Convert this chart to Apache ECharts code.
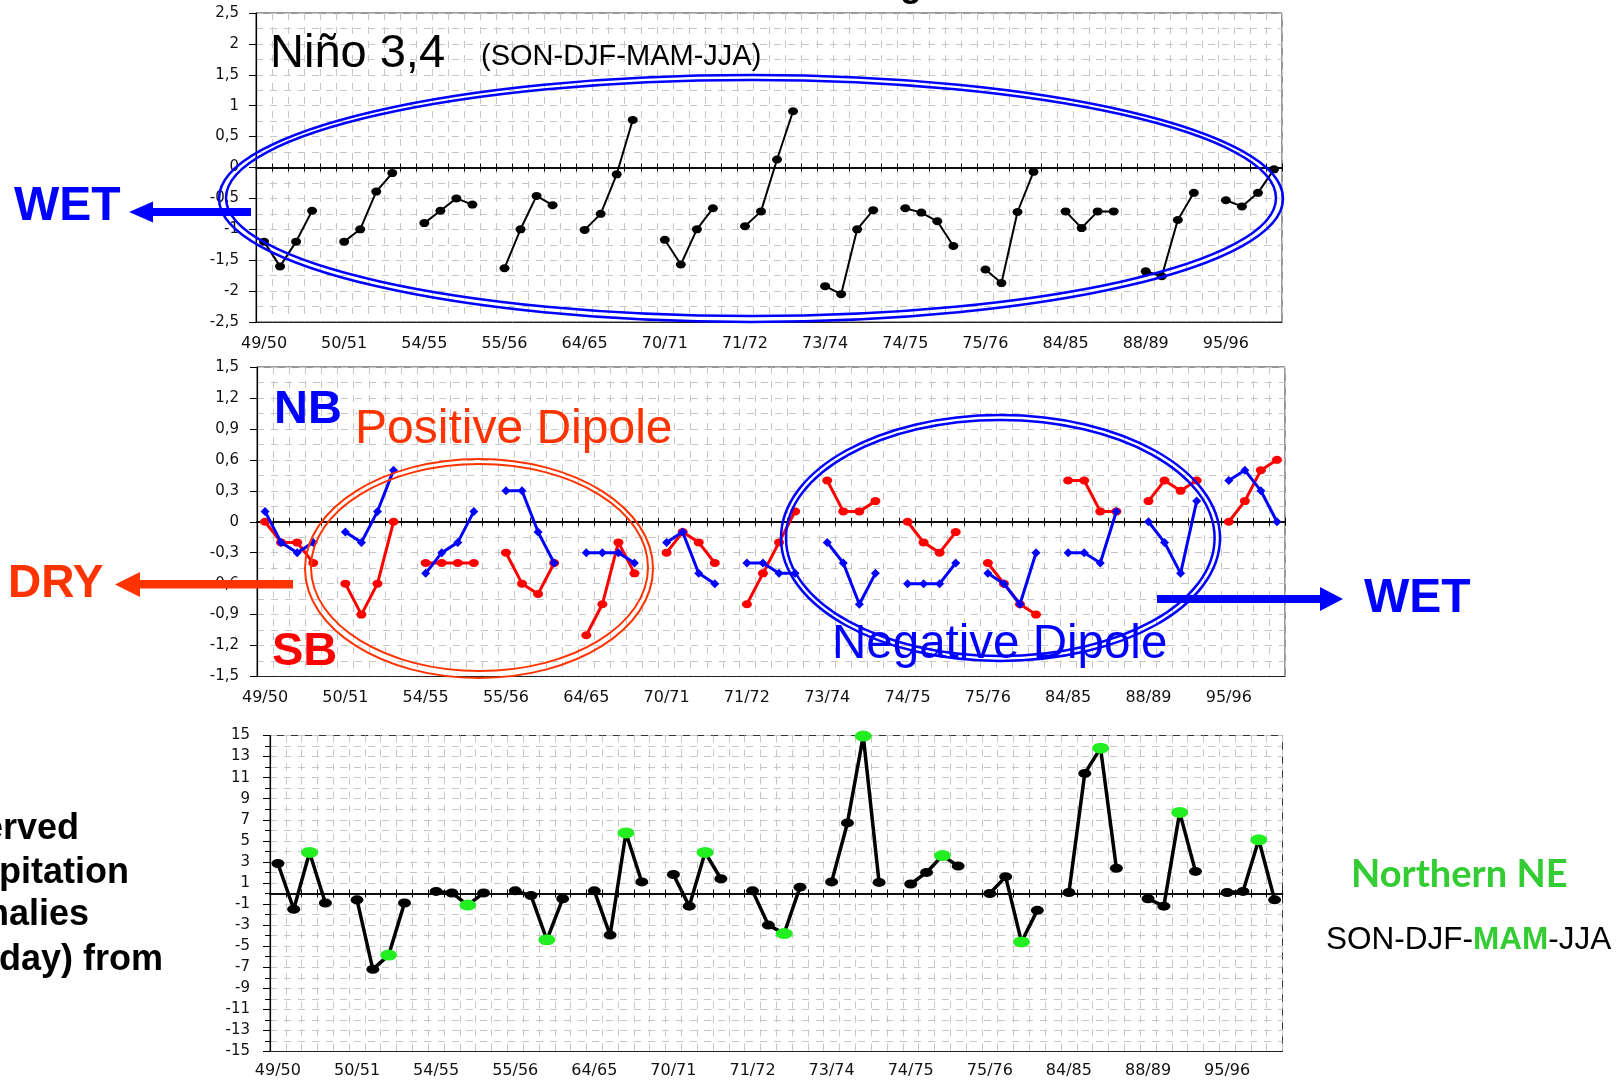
<!DOCTYPE html>
<html><head><meta charset="utf-8">
<script src="https://cdn.jsdelivr.net/npm/echarts@6/dist/echarts.min.js"></script>
<style>html,body{margin:0;padding:0;background:#fff}#c{width:1624px;height:1081px}</style>
</head><body><div id="c"></div>
<script>
// ---- data ----
const years = ['49/50','50/51','54/55','55/56','64/65','70/71','71/72','73/74','74/75','75/76','84/85','88/89','95/96'];
const seasons = ['SON','DJF','MAM','JJA'];
// Niño 3,4 anomalies (SON, DJF, MAM, JJA) per year
const nino34 = [
  [-1.2, -1.6, -1.2, -0.7],
  [-1.2, -1.0, -0.39, -0.09],
  [-0.9, -0.7, -0.5, -0.6],
  [-1.63, -1.0, -0.46, -0.61],
  [-1.01, -0.75, -0.11, 0.77],
  [-1.17, -1.57, -1.0, -0.66],
  [-0.95, -0.71, 0.13, 0.91],
  [-1.92, -2.05, -1.0, -0.69],
  [-0.66, -0.73, -0.87, -1.27],
  [-1.65, -1.87, -0.72, -0.07],
  [-0.71, -0.98, -0.71, -0.71],
  [-1.68, -1.76, -0.85, -0.41],
  [-0.53, -0.63, -0.41, -0.03]
];
// NB (blue) index
const nbIndex = [
  [0.1, -0.2, -0.3, -0.2],
  [-0.1, -0.2, 0.1, 0.5],
  [-0.5, -0.3, -0.2, 0.1],
  [0.3, 0.3, -0.1, -0.4],
  [-0.3, -0.3, -0.3, -0.4],
  [-0.2, -0.1, -0.5, -0.6],
  [-0.4, -0.4, -0.5, -0.5],
  [-0.2, -0.4, -0.8, -0.5],
  [-0.6, -0.6, -0.6, -0.4],
  [-0.5, -0.6, -0.8, -0.3],
  [-0.3, -0.3, -0.4, 0.1],
  [0.0, -0.2, -0.5, 0.2],
  [0.4, 0.5, 0.3, 0.0]
];
// SB (red) index
const sbIndex = [
  [0.0, -0.2, -0.2, -0.4],
  [-0.6, -0.9, -0.6, 0.0],
  [-0.4, -0.4, -0.4, -0.4],
  [-0.3, -0.6, -0.7, -0.4],
  [-1.1, -0.8, -0.2, -0.5],
  [-0.3, -0.1, -0.2, -0.4],
  [-0.8, -0.5, -0.2, 0.1],
  [0.4, 0.1, 0.1, 0.2],
  [0.0, -0.2, -0.3, -0.1],
  [-0.4, -0.6, -0.8, -0.9],
  [0.4, 0.4, 0.1, 0.1],
  [0.2, 0.4, 0.3, 0.4],
  [0.0, 0.2, 0.5, 0.6]
];
// Observed precipitation anomalies (mm/day), Northern NE
const precipNNE = [
  [2.85, -1.5, 3.9, -0.9],
  [-0.6, -7.2, -5.85, -0.9],
  [0.2, 0.05, -1.1, 0.05],
  [0.25, -0.2, -4.4, -0.5],
  [0.25, -3.95, 5.75, 1.1],
  [1.8, -1.2, 3.9, 1.4],
  [0.25, -3.0, -3.8, 0.6],
  [1.1, 6.7, 14.95, 1.05],
  [0.9, 2.0, 3.6, 2.6],
  [0.0, 1.6, -4.6, -1.6],
  [0.1, 11.4, 13.8, 2.4],
  [-0.5, -1.2, 7.7, 2.1],
  [0.1, 0.2, 5.1, -0.6]
];
const highlightSeason = 'MAM';

// ---- helpers ----
function flatten(groups) {
  const out = [];
  groups.forEach((g, i) => { g.forEach(v => out.push(v)); if (i < groups.length - 1) out.push(null); });
  return out;
}
const categories = [];
years.forEach((y, i) => { seasons.forEach(s => categories.push(y + ' ' + s)); if (i < years.length - 1) categories.push(y + ' gap'); });
const seasonOf = idx => categories[idx].split(' ')[1];

const tickFont = '"DejaVu Sans", "Liberation Sans", sans-serif';
const gridColor = '#c6c6c6';
const commaFmt = v => String(Math.round(v * 100) / 100).replace('.', ',');

const grids = [
  {left: 256, top: 13, width: 1026, height: 309},
  {left: 257, top: 367, width: 1028, height: 309.5},
  {left: 270, top: 735.5, width: 1012.5, height: 316}
];
const labelMargins = [14, 13, 11];

const xAxes = [];
grids.forEach((g, gi) => {
  xAxes.push({
    type: 'category', gridIndex: gi, data: categories, boundaryGap: true, position: 'bottom',
    axisLine: {show: true, onZero: false, lineStyle: {color: '#222', width: 1}},
    axisTick: {show: false},
    axisLabel: {show: true, interval: 0, margin: labelMargins[gi], color: '#111', fontSize: 16, fontFamily: tickFont,
      formatter: (v, idx) => (idx % 5 === 0 ? years[idx / 5] : '')},
    splitLine: {show: true, interval: 0, lineStyle: {color: gridColor, type: [7, 7], width: 1}}
  });
  [false, true].forEach(inside => {
    xAxes.push({
      type: 'category', gridIndex: gi, data: categories, boundaryGap: true, position: 'bottom',
      axisLine: {show: true, onZero: true, onZeroAxisIndex: gi, lineStyle: {color: '#000', width: 1.5}},
      axisTick: {show: true, interval: 0, inside: inside, length: 4, lineStyle: {color: '#000', width: 1}},
      axisLabel: {show: false}, splitLine: {show: false}
    });
  });
});

function yAxis(gi, min, max, interval, fmt, margin, minorTickShow) {
  return {
    type: 'value', gridIndex: gi, min: min, max: max, interval: interval,
    axisLine: {show: true, lineStyle: {color: '#000', width: 1.2}},
    axisTick: {show: true, length: 7, lineStyle: {color: '#000'}},
    minorTick: {show: minorTickShow, splitNumber: 2, length: 5, lineStyle: {color: '#000'}},
    axisLabel: {formatter: fmt, margin: margin, color: '#111', fontSize: 15, fontFamily: tickFont},
    splitLine: {show: true, lineStyle: {color: gridColor, type: [7, 7]}},
    minorSplitLine: {show: true, lineStyle: {color: gridColor, type: [7, 7]}}
  };
}
const yAxes = [
  yAxis(0, -2.5, 2.5, 0.5, commaFmt, 17, false),
  yAxis(1, -1.5, 1.5, 0.3, commaFmt, 18, false),
  yAxis(2, -15, 15, 2, v => String(v), 20, true)
];

const precipData = flatten(precipNNE).map((v, idx) => {
  if (v === null) return null;
  const hl = seasonOf(idx) === highlightSeason;
  return {value: v, symbolSize: hl ? [17, 11] : [13, 9], itemStyle: {color: hl ? '#22ee22' : '#000'}};
});

const series = [
  {type: 'line', name: 'Niño 3,4', xAxisIndex: 0, yAxisIndex: 0, data: flatten(nino34),
    symbol: 'circle', symbolSize: [10, 8], itemStyle: {color: '#000'}, lineStyle: {color: '#000', width: 2},
    connectNulls: false, z: 3},
  {type: 'line', name: 'SB', xAxisIndex: 3, yAxisIndex: 1, data: flatten(sbIndex),
    symbol: 'circle', symbolSize: [10, 8], itemStyle: {color: '#ff0000'}, lineStyle: {color: '#ff0000', width: 3},
    connectNulls: false, z: 3},
  {type: 'line', name: 'NB', xAxisIndex: 3, yAxisIndex: 1, data: flatten(nbIndex),
    symbol: 'diamond', symbolSize: [9, 9], itemStyle: {color: '#0000ff'}, lineStyle: {color: '#0000ff', width: 3},
    connectNulls: false, z: 4},
  {type: 'line', name: 'Precipitation', xAxisIndex: 6, yAxisIndex: 2, data: precipData,
    symbol: 'circle', itemStyle: {color: '#000'}, lineStyle: {color: '#000', width: 3.5},
    connectNulls: false, z: 3}
];

// ---- annotations ----
const BLUE = '#0000ff', ORED = '#ff3300', RED = '#ff0000', GREEN = '#33cc33';
const SANS = '"Liberation Sans", Arial, sans-serif';
function txt(text, x, y, size, color, weight, family) {
  return {type: 'text', z: 20, style: {text: text, x: x, y: y, fill: color,
    font: (weight || 'normal') + ' ' + size + 'px ' + (family || SANS), align: 'left', verticalAlign: 'middle'}};
}
function ell(cx, cy, rx, ry, color, w) {
  return {type: 'ellipse', z: 15, shape: {cx: cx, cy: cy, rx: rx, ry: ry}, style: {fill: 'none', stroke: color, lineWidth: w}};
}
function poly(points, color) {
  return {type: 'polygon', z: 16, shape: {points: points}, style: {fill: color}};
}
const graphics = [
  txt('g', 900, -14, 36, '#000', 'bold'),
  txt('Niño 3,4', 270, 54, 47, '#000'),
  txt('(SON-DJF-MAM-JJA)', 481, 57, 29, '#000'),
  ell(751, 198.5, 532, 123.5, BLUE, 2.5),
  ell(751, 198, 525, 118, BLUE, 2.5),
  poly([[129, 212], [153, 201.5], [153, 208], [251, 208], [251, 216], [153, 216], [153, 222.5]], BLUE),
  txt('WET', 14, 207, 48, BLUE, 'bold'),
  txt('NB', 274, 410, 47, BLUE, 'bold'),
  txt('Positive Dipole', 355, 430, 48, ORED),
  txt('SB', 272, 652, 47, RED, 'bold'),
  ell(479, 568.5, 174, 109.5, ORED, 2),
  ell(479.5, 567.5, 168.5, 103.5, ORED, 2),
  ell(1000.5, 538, 219.5, 123, BLUE, 2.5),
  ell(1000.3, 538, 214.3, 118, BLUE, 2.5),
  txt('Negative Dipole', 832, 645, 47.5, BLUE),
  poly([[115, 584.5], [140, 572], [140, 580], [293, 580], [293, 588.5], [140, 588.5], [140, 597]], ORED),
  txt('DRY', 8, 584.5, 46, ORED, 'bold'),
  poly([[1157, 595], [1320, 595], [1320, 587], [1343, 599], [1320, 611], [1320, 603], [1157, 603]], BLUE),
  txt('WET', 1364, 599, 48, BLUE, 'bold'),
  txt('Observed', -87, 829, 36, '#000', 'bold'),
  txt('precipitation', -87, 873, 36, '#000', 'bold'),
  txt('anomalies', -87, 915, 36, '#000', 'bold'),
  txt('(mm/day) from', -87, 960, 36, '#000', 'bold'),
  txt('Northern NE', 1351, 875, 38, GREEN, 'bold', 'Lato, "Open Sans", sans-serif'),
  {type: 'text', z: 20, style: {text: '{a|SON-DJF-}{b|MAM}{a|-JJA}', x: 1326, y: 940, align: 'left', verticalAlign: 'middle',
    rich: {a: {fontSize: 31.5, fontFamily: SANS, fill: '#000', color: '#000'},
           b: {fontSize: 31.5, fontFamily: SANS, fontWeight: 'bold', fill: GREEN, color: GREEN}}}}
];

const chart = echarts.init(document.getElementById('c'), null, {renderer: 'canvas'});
chart.setOption({
  animation: false,
  backgroundColor: '#ffffff',
  grid: grids.map(g => Object.assign({show: true, borderColor: '#333', borderWidth: 1, containLabel: false}, g)),
  xAxis: xAxes,
  yAxis: yAxes,
  series: series,
  graphic: {elements: graphics}
});
</script></body></html>
